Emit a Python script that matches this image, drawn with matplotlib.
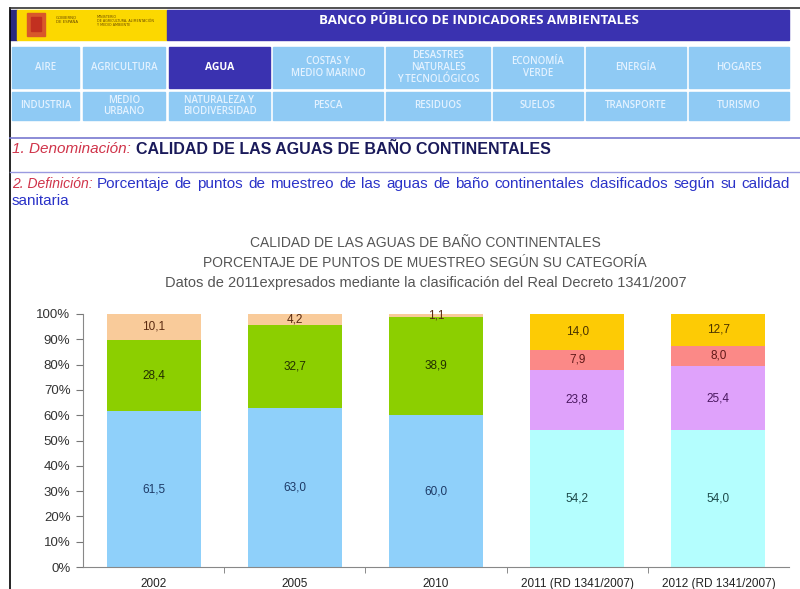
import numpy as np
import matplotlib.pyplot as plt
from matplotlib.patches import Rectangle

# Datos del indicador (% de puntos de muestreo)
anios = ['2002', '2005', '2010', '2011 (RD 1341/2007)', '2012 (RD 1341/2007)']
aceptable_76 = [61.5, 63.0, 60.0, 0, 0]
buena_76 = [28.4, 32.7, 38.9, 0, 0]
mala_76 = [10.1, 4.2, 1.1, 0, 0]
excelente_rd = [0, 0, 0, 54.2, 54.0]
buena_rd = [0, 0, 0, 23.8, 25.4]
suficiente_rd = [0, 0, 0, 7.9, 8.0]
insuficiente_rd = [0, 0, 0, 14.0, 12.7]

series = [aceptable_76, buena_76, mala_76, excelente_rd, buena_rd, suficiente_rd, insuficiente_rd]
colores = ['#8fd0fa', '#8ccf00', '#f9cb9a', '#b4fefe', '#dfa2fb', '#fb8987', '#fdcb05']
col_texto = ['#1d3a66', '#233000', '#5a2a10', '#1d4a4a', '#4a1860', '#601818', '#4a3300']

# Botones del menu
menu_fila1 = ['AIRE', 'AGRICULTURA', 'AGUA', 'COSTAS Y\nMEDIO MARINO', 'DESASTRES\nNATURALES\nY TECNOLÓGICOS',
              'ECONOMÍA\nVERDE', 'ENERGÍA', 'HOGARES']
menu_fila2 = ['INDUSTRIA', 'MEDIO\nURBANO', 'NATURALEZA Y\nBIODIVERSIDAD', 'PESCA', 'RESIDUOS', 'SUELOS',
              'TRANSPORTE', 'TURISMO']
menu_x = [(12, 79), (83, 165), (169, 270), (273, 383), (386, 490), (493, 583), (586, 686), (689, 789)]

definicion = ('Porcentaje de puntos de muestreo de las aguas de baño continentales '
              'clasificados según su calidad')

fig = plt.figure(figsize=(8, 5.89), dpi=100)
fig.patch.set_facecolor('white')
renderer = fig.canvas.get_renderer()

# Capa de pagina en pixeles
pg = fig.add_axes([0, 0, 1, 1])
pg.set_xlim(0, 800)
pg.set_ylim(589, 0)
pg.axis('off')


def ancho(t):
    return t.get_window_extent(renderer).width


pg.plot([10, 10], [8, 589], color='black', lw=1.2)
pg.plot([10, 800], [8, 8], color='#333333', lw=1.2)

# Cabecera
pg.add_patch(Rectangle((10, 10), 7, 30, color='#2a2a80'))
pg.add_patch(Rectangle((17, 10), 150, 30, color='#fcd800'))
pg.add_patch(Rectangle((167, 10), 622, 30, color='#3a32b0'))
pg.add_patch(Rectangle((27, 13), 18, 23, color='#d8582a'))
pg.add_patch(Rectangle((31, 17), 10, 14, color='#c23020'))
pg.text(56, 20, 'GOBIERNO\nDE ESPAÑA', fontsize=2.8, color='#6a4a00', va='center', linespacing=1.0)
pg.text(97, 21, 'MINISTERIO\nDE AGRICULTURA, ALIMENTACIÓN\nY MEDIO AMBIENTE', fontsize=2.4, color='#6a4a00',
        va='center', linespacing=1.0)
pg.text(479, 20, 'BANCO PÚBLICO DE INDICADORES AMBIENTALES', fontsize=9.5, color='white',
        fontweight='bold', family='Open Sans', ha='center', va='center')

for fila, (y0, y1) in zip([menu_fila1, menu_fila2], [(47, 88), (92, 120)]):
    for etiqueta, (x0, x1) in zip(fila, menu_x):
        activo = etiqueta == 'AGUA'
        pg.add_patch(Rectangle((x0, y0), x1 - x0, y1 - y0, color='#3a32b0' if activo else '#8fcaf4'))
        pg.text((x0 + x1) / 2, (y0 + y1) / 2, etiqueta, ha='center', va='center', family='Open Sans',
                fontsize=7.5 if activo else 7, fontweight='bold' if activo else 'semibold',
                color='white' if activo else '#e4f2ff', linespacing=1.1)

# Denominacion y definicion
pg.plot([10, 800], [138, 138], color='#7878d0', lw=1.2)
pg.plot([10, 800], [172, 172], color='#9a9ae0', lw=1.0)
t1 = pg.text(12, 149, '1. Denominación:', fontsize=11, color='#d0344a', style='italic',
             family='Liberation Sans', va='center')
pg.text(12 + ancho(t1) + 5, 149, 'CALIDAD DE LAS AGUAS DE BAÑO CONTINENTALES', fontsize=11.5,
        color='#1a1a5a', fontweight='bold', family='Liberation Sans', va='center')

t2 = pg.text(12, 184, '2. Definición:', fontsize=10, color='#d0344a', style='italic',
             family='Liberation Sans', va='center')
# Texto justificado entre el rotulo y el margen derecho
x_ini, x_fin = 12 + ancho(t2) + 4, 790
palabras = [pg.text(0, 184, p, fontsize=11, color='#2a32c8', family='Liberation Sans', va='center')
            for p in definicion.split()]
anchos = [ancho(p) for p in palabras]
hueco = (x_fin - x_ini - sum(anchos)) / (len(palabras) - 1)
xp = x_ini
for p, w in zip(palabras, anchos):
    p.set_x(xp)
    xp += w + hueco
pg.text(12, 201, 'sanitaria', fontsize=11, color='#2a32c8', family='Liberation Sans', va='center')

# Titulos del grafico
pg.text(425, 243, 'CALIDAD DE LAS AGUAS DE BAÑO CONTINENTALES', fontsize=10, color='#555555',
        family='Liberation Sans', ha='center', va='center')
pg.text(425, 263, 'PORCENTAJE DE PUNTOS DE MUESTREO SEGÚN SU CATEGORÍA', fontsize=10, color='#555555',
        family='Liberation Sans', ha='center', va='center')
pg.text(426, 283, 'Datos de 2011expresados mediante la clasificación del Real Decreto 1341/2007', fontsize=10.5,
        color='#555555', family='Liberation Sans', ha='center', va='center')

# Grafico de barras apiladas
ax = fig.add_axes([83 / 800, 22 / 589, 706 / 800, 253 / 589])
x = np.arange(len(anios))
base = np.zeros(len(anios))
for valores, c, ct in zip(series, colores, col_texto):
    v = np.array(valores, dtype=float)
    ax.bar(x, v, bottom=base, width=0.667, color=c, linewidth=0)
    for xi, vi, bi in zip(x, v, base):
        if vi > 0:
            ax.text(xi, bi + vi / 2, f'{vi:.1f}'.replace('.', ','), ha='center', va='center',
                    fontsize=8.5, color=ct, family='Liberation Sans')
    base += v

ax.set_xlim(-0.5, len(anios) - 0.5)
ax.set_ylim(0, 100)
ax.set_yticks(np.arange(0, 101, 10))
ax.set_yticklabels([f'{t}%' for t in range(0, 101, 10)], fontsize=9.5, color='#333333', family='Liberation Sans')
ax.set_xticks(x)
ax.set_xticklabels(anios, fontsize=8.5, color='#222222', family='Liberation Sans')
ax.set_xticks(x[:-1] + 0.5, minor=True)
ax.tick_params(axis='x', which='major', length=0, pad=8)
ax.tick_params(axis='x', which='minor', length=4, color='#777777', direction='out')
ax.tick_params(axis='y', length=5, color='#777777', pad=4)
for s in ['top', 'right']:
    ax.spines[s].set_visible(False)
for s in ['left', 'bottom']:
    ax.spines[s].set_color('#888888')
ax.patch.set_alpha(0)

fig.savefig('out.png', dpi=100)
